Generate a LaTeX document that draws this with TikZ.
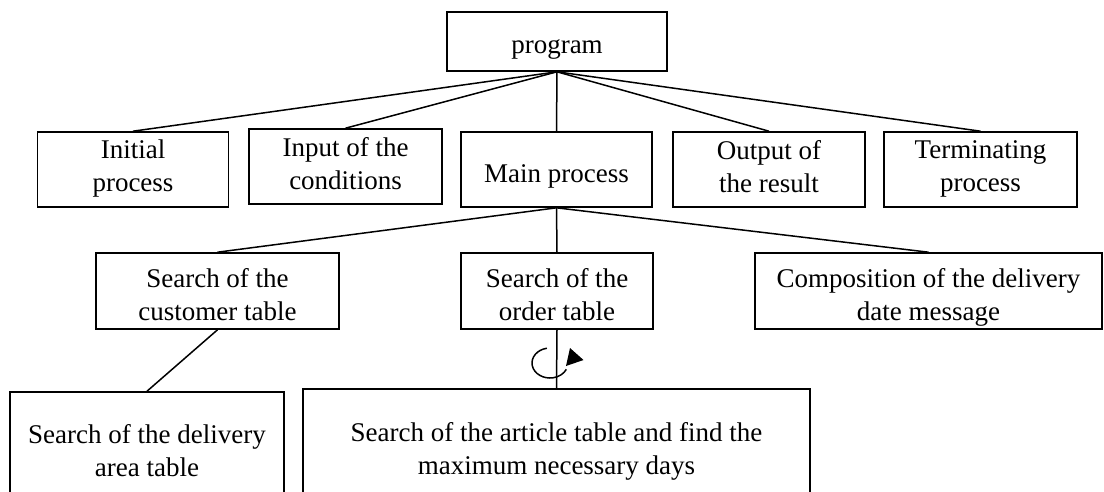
\documentclass[tikz,border=0pt]{standalone}
\usepackage{fontspec}
\setmainfont{Liberation Serif}
\usetikzlibrary{arrows.meta,calc}
\begin{document}
\begin{tikzpicture}[x=1pt,y=1pt,
  box/.style={draw, line width=1.6pt, inner sep=0pt},
  txt/.style={align=center, inner sep=0pt,
    font=\fontsize{27}{33}\selectfont,
    execute at begin node={\rule{0pt}{25pt}},
    execute at end node={\rule[-7pt]{0pt}{7pt}}},
  conn/.style={line width=1.5pt},
  loopline/.style={line width=1.5pt}]
\useasboundingbox (0,0) rectangle (1104,-491);
% boxes
\node[box, minimum width=220, minimum height=59] (prog) at (557,-41.5) {};
\node[box, minimum width=191, minimum height=75] (init) at (133,-169.5) {};
\node[box, minimum width=193, minimum height=75] (input) at (345.5,-166.5) {};
\node[box, minimum width=191, minimum height=75] (main) at (556.5,-169.5) {};
\node[box, minimum width=192, minimum height=75] (output) at (769,-169.5) {};
\node[box, minimum width=193, minimum height=75] (term) at (980.5,-169.5) {};
\node[box, minimum width=243, minimum height=76] (cust) at (217.5,-291) {};
\node[box, minimum width=192, minimum height=76] (order) at (557,-291) {};
\node[box, minimum width=347, minimum height=76] (comp) at (928.5,-291) {};
\node[box, minimum width=274, minimum height=118] (deliv) at (147,-451) {};
\node[box, minimum width=507, minimum height=120] (art) at (556.5,-449) {};
% texts
\node[txt, yshift=-3pt] (progT) at (prog) {program};
\node[txt] (initT) at (init) {Initial\\process};
\node[txt] (inputT) at (input) {Input of the\\conditions};
\node[txt, yshift=-4pt] (mainT) at (main) {Main process};
\node[txt] (outputT) at (output) {Output of\\the result};
\node[txt] (termT) at (term) {Terminating\\process};
\node[txt, yshift=-7pt] (custT) at (cust) {Search of the\\customer table};
\node[txt, yshift=-7pt] (orderT) at (order) {Search of the\\order table};
\node[txt, yshift=-7pt] (compT) at (comp) {Composition of the delivery\\date message};
\node[txt, yshift=-3pt] (delivT) at (deliv) {Search of the delivery\\area table};
\node[txt, yshift=-2.5pt] (artT) at (art) {Search of the article table and find the\\maximum necessary days};
% connectors
\foreach \t in {init,input,main,output,term}
  \draw[conn] (prog.south) -- (\t.north);
\foreach \t in {cust,order,comp}
  \draw[conn] (main.south) -- (\t.north);
\draw[conn] (cust.south) -- (deliv.north);
\draw[conn] (order.south) -- (art.north);
% loop symbol
\coordinate (lc) at (550,-363);
\draw[loopline] ($(lc)+(100:18 and 15)$) arc[start angle=100, end angle=335, x radius=18, y radius=15];
\fill (570,-348) -- (583.5,-360) -- (566,-366) -- cycle;
\end{tikzpicture}
\end{document}
